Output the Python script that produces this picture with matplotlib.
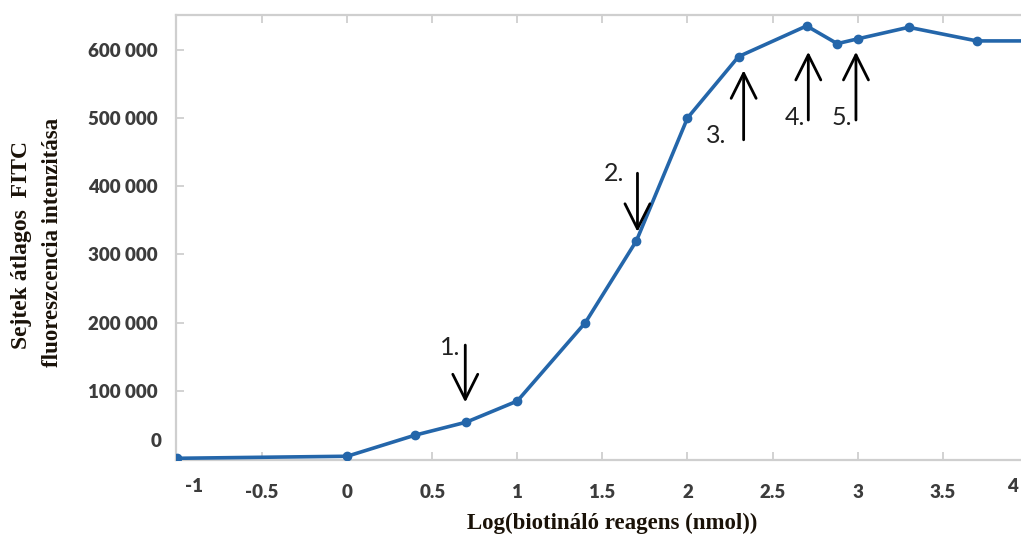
import matplotlib
matplotlib.use("Agg")
import matplotlib.pyplot as plt

# Data
log_amount = [-1.0, 0.0, 0.4, 0.7, 1.0, 1.4, 1.7, 2.0, 2.3, 2.7, 2.88, 3.0, 3.3, 3.7, 4.0]
intensity = [1000, 4000, 35000, 54000, 85000, 200000, 320000, 500000, 590000,
             635000, 609000, 616000, 633000, 613000, 613000]
x_ticks = [-0.5, 0, 0.5, 1, 1.5, 2, 2.5, 3, 3.5]
x_tick_labels = ["-0.5", "0", "0.5", "1", "1.5", "2", "2.5", "3", "3.5"]
y_ticks = [100000, 200000, 300000, 400000, 500000, 600000]
y_tick_labels = ["100 000", "200 000", "300 000", "400 000", "500 000", "600 000"]
# arrows: (label, arrow x, tail y, tip y, label x, label y)
arrow_labels = ["1.", "2.", "3.", "4.", "5."]
arrow_x = [0.694, 1.706, 2.33, 2.71, 2.99]
arrow_tail = [167000, 419000, 468000, 497000, 497000]
arrow_tip = [83000, 333000, 570000, 597000, 597000]
label_x = [0.606, 1.57, 2.17, 2.63, 2.906]
label_y = [163000, 419000, 475000, 501000, 501000]

W, H = 1021, 536
fig = plt.figure(figsize=(W / 100, H / 100), dpi=100)
ax = fig.add_axes([176 / W, 1 - 460 / H, (W - 176) / W + 0.01, (460 - 15) / H])

ax.plot(log_amount, intensity, color="#2466aa", lw=2.6, marker="o", ms=6,
        solid_capstyle="round", clip_on=True, zorder=3)

ax.set_xlim(-1.006, 4.02)
ax.set_ylim(-1500, 651000)

spine_col = "#cfcfcf"
for s in ["left", "top", "bottom"]:
    ax.spines[s].set_color(spine_col)
    ax.spines[s].set_linewidth(1.6)
ax.spines["right"].set_visible(False)

tick_font = dict(family=["Lato", "DejaVu Sans"], weight="heavy", size=13.5)
ax.set_xticks(x_ticks)
ax.set_xticklabels(x_tick_labels, color="#3c3c3c", **tick_font)
ax.set_yticks(y_ticks)
ax.set_yticklabels(y_tick_labels, color="#3c3c3c", **tick_font)
ax.tick_params(axis="x", direction="in", length=6, width=1.3, color=spine_col,
               top=True, bottom=True, pad=17)
ax.tick_params(axis="y", direction="in", length=6, width=1.3, color=spine_col, pad=13)

# edge labels that sit just inside the axis ends
ax.text(-0.9, -0.06, "-1", transform=ax.get_xaxis_transform(), ha="center", va="center",
        color="#3c3c3c", **tick_font)
ax.text(3.91, -0.06, "4", transform=ax.get_xaxis_transform(), ha="center", va="center",
        color="#3c3c3c", **tick_font)
ax.text(-0.0165, 26000, "0", transform=ax.get_yaxis_transform(), ha="right", va="center",
        color="#3c3c3c", **tick_font)

# arrows and annotation numbers
for lab, ax_x, t0, t1, lx, ly in zip(arrow_labels, arrow_x, arrow_tail, arrow_tip, label_x, label_y):
    ax.annotate("", xy=(ax_x, t1), xytext=(ax_x, t0),
                arrowprops=dict(arrowstyle="->,head_length=0.9,head_width=0.45",
                                color="black", lw=2, mutation_scale=20,
                                shrinkA=0, shrinkB=0), zorder=4)
    ax.text(lx, ly, lab, ha="center", va="center", fontsize=18,
            family=["Lato", "DejaVu Sans"], color="#222222", zorder=4)

serif = dict(family=["Liberation Serif", "DejaVu Serif"], weight="bold")
fig.text(22 / W, 1 - 245 / H, "Sejtek átlagos  FITC", rotation=90, ha="center", va="center",
         fontsize=17, color="#1a1208", **serif)
fig.text(53 / W, 1 - 242 / H, "fluoreszcencia intenzitása", rotation=90, ha="center", va="center",
         fontsize=16.5, color="#1a1208", **serif)
fig.text(612 / W, 1 - 523 / H, "Log(biotináló reagens (nmol))", ha="center", va="center",
         fontsize=16.5, color="#1a1208", **serif)

fig.savefig("out.png", dpi=100)
